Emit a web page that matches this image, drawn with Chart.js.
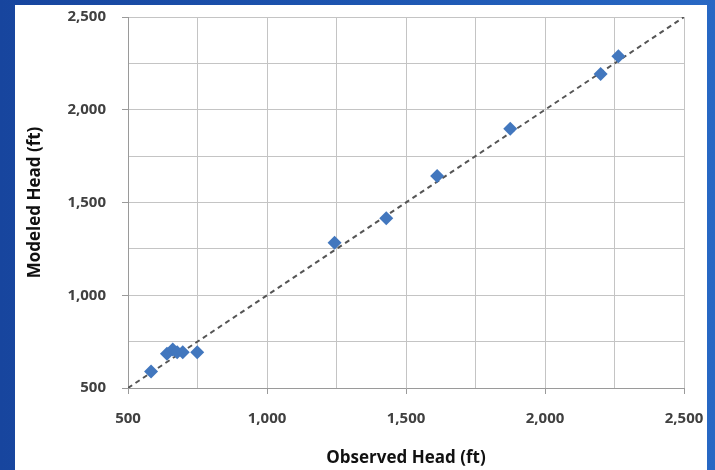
<!DOCTYPE html>
<html>
<head>
<meta charset="utf-8">
<script src="https://cdn.jsdelivr.net/npm/chart.js@4/dist/chart.umd.min.js"></script>
<style>
  html, body { margin: 0; padding: 0; width: 715px; height: 470px; overflow: hidden; }
  body { background: linear-gradient(to right, #17459e 0%, #1d55b0 50%, #2868c4 100%); position: relative; }
  #frame { position: absolute; left: 15px; top: 5px; width: 692px; height: 470px; background: #ffffff; }
  #wrap { position: absolute; left: 0; top: 0; width: 715px; height: 470px; }
</style>
</head>
<body>
<div id="frame"></div>
<div id="wrap"><canvas id="c" width="715" height="470"></canvas></div>
<script>
const observedHead = [583, 640, 661, 677, 697, 749, 1243, 1429, 1612, 1875, 2200, 2264];
const modeledHead  = [589, 685, 708, 693, 693, 693, 1283, 1415, 1643, 1897, 2193, 2288];
const oneToOneLine = [500, 2500];
const axisMin = 500, axisMax = 2500, gridStep = 250, labelStep = 500;
const xTitle = 'Observed Head (ft)';
const yTitle = 'Modeled Head (ft)';

const points = observedHead.map((x, i) => ({ x: x, y: modeledHead[i] }));
const linePts = oneToOneLine.map(v => ({ x: v, y: v }));

const tickFont = { family: 'Open Sans', size: 15, weight: 'bold' };
const titleFont = { family: 'Open Sans', size: 17, weight: 'bold' };
const fmt = v => (v % labelStep === 0 ? v.toLocaleString('en-US') : '');
const tickCol = ctx => (ctx.tick && ctx.tick.value % labelStep === 0 ? '#9a9a9a' : 'rgba(0,0,0,0)');

new Chart(document.getElementById('c'), {
  type: 'scatter',
  data: {
    datasets: [
      {
        label: 'Heads',
        data: points,
        pointStyle: 'rectRot',
        pointRadius: 7,
        pointHoverRadius: 7,
        backgroundColor: '#4277be',
        borderColor: '#4277be',
        borderWidth: 0,
        order: 0
      },
      {
        label: '1:1',
        data: linePts,
        showLine: true,
        pointRadius: 0,
        borderColor: '#555555',
        borderWidth: 2,
        borderDash: [5, 4],
        fill: false,
        order: 1
      }
    ]
  },
  options: {
    responsive: false,
    animation: false,
    layout: { padding: { left: 0, top: 17, right: 31, bottom: 0 } },
    plugins: { legend: { display: false }, tooltip: { enabled: false } },
    scales: {
      x: {
        type: 'linear',
        min: axisMin, max: axisMax,
        afterFit: s => { s.height = 82; s.paddingLeft = 0; s.paddingRight = 0; },
        ticks: { stepSize: gridStep, autoSkip: false, maxRotation: 0, padding: 16, color: '#404040', font: tickFont, callback: fmt },
        grid: { color: '#c4c4c4', lineWidth: 1, tickLength: 6, tickColor: tickCol },
        border: { color: '#9a9a9a', width: 1 },
        title: { display: true, text: xTitle, color: '#111111', font: titleFont, padding: { top: 0, bottom: 2 } }
      },
      y: {
        type: 'linear',
        min: axisMin, max: axisMax,
        afterFit: s => { s.width = 128; s.paddingTop = 0; s.paddingBottom = 0; },
        ticks: { stepSize: gridStep, autoSkip: false, padding: 16, color: '#404040', font: tickFont, callback: fmt },
        grid: { color: '#c4c4c4', lineWidth: 1, tickLength: 6, tickColor: tickCol },
        border: { color: '#9a9a9a', width: 1 },
        title: { display: true, text: yTitle, color: '#111111', font: titleFont, padding: { top: 25, bottom: 0 } }
      }
    }
  }
});
</script>
</body>
</html>
